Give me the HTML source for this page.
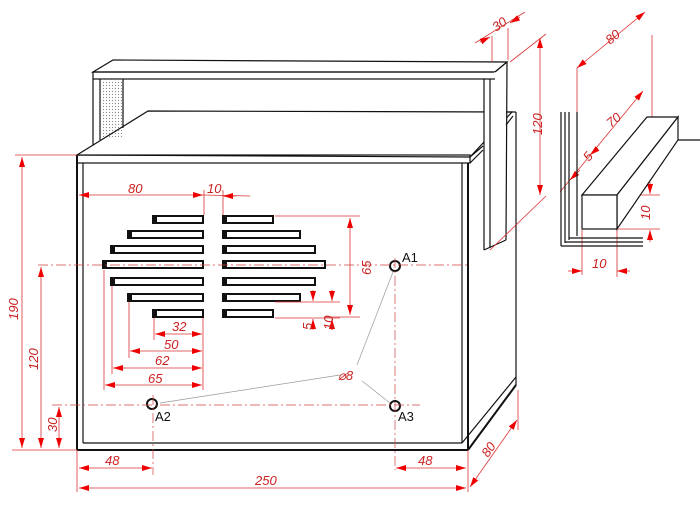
<!DOCTYPE html>
<html><head><meta charset="utf-8"><style>
html,body{margin:0;padding:0;background:#fff;width:700px;height:508px;overflow:hidden}
svg{display:block}
.k{stroke:#111;stroke-width:2;fill:none}
.k1{stroke:#111;stroke-width:1.2;fill:none}
.r{stroke:#d33;stroke-width:0.8;fill:none}
.c{stroke:#c44;stroke-width:0.7;fill:none;stroke-dasharray:10 3 2 3}
.g{stroke:#999;stroke-width:0.7;fill:none}
text.t{font-family:"Liberation Sans",sans-serif;font-style:italic;font-size:13px;fill:#c22}
text.a{font-family:"Liberation Sans",sans-serif;font-size:13px;fill:#111}
</style></head><body>
<svg width="700" height="508" viewBox="0 0 700 508">
<defs>
<marker id="ar" viewBox="0 0 10 6" refX="10" refY="3" markerWidth="10" markerHeight="6" orient="auto-start-reverse" markerUnits="userSpaceOnUse"><path d="M0,0L10,3L0,6z" fill="#e00"/></marker>
<pattern id="dots" width="3" height="3" patternUnits="userSpaceOnUse"><circle cx="1.5" cy="1.5" r="0.6" fill="#888"/></pattern>
</defs>
<!-- back unit -->
<polygon points="93,72 113,60 507,62 495,72" class="k1" fill="#fff"/>
<rect x="93" y="72" width="402" height="7" class="k1"/>
<line x1="93" y1="79" x2="93" y2="145" class="k1"/>
<line x1="100" y1="79" x2="100" y2="140" class="k1"/>
<rect x="101" y="79" width="22" height="58" fill="url(#dots)"/>
<line x1="123" y1="79" x2="123" y2="128" class="k1"/>
<!-- main box top -->
<polygon points="77,155 148,111 512,112 470,157" fill="#fff" class="k1"/>
<rect x="77" y="155" width="393" height="8" fill="#fff" class="k1"/>
<line x1="470" y1="163" x2="483" y2="150" class="k1"/>
<line x1="470" y1="157" x2="483" y2="146" class="k1"/>
<line x1="516" y1="112" x2="516" y2="385" class="k1"/>
<!-- back right leg in front -->
<polygon points="484,79 495,72 507,62 506,240 484,250" fill="#fff" stroke="none"/>
<line x1="495" y1="72" x2="507" y2="62" class="k1"/>
<line x1="484" y1="79" x2="484" y2="250" class="k1"/>
<line x1="490" y1="79" x2="490" y2="248" class="k1"/>
<line x1="507" y1="62" x2="506" y2="240" class="k1"/>
<line x1="484" y1="250" x2="506" y2="240" class="k1"/>
<line x1="484" y1="79" x2="495" y2="79" class="k1"/>
<line x1="506" y1="112" x2="516" y2="112" class="k1"/>
<line x1="506" y1="125" x2="513" y2="116" class="k1"/>
<!-- front face -->
<line x1="77" y1="155" x2="77" y2="450" class="k"/>
<line x1="83" y1="163" x2="83" y2="443" class="k1"/>
<line x1="77" y1="450" x2="468" y2="450" class="k"/>
<line x1="83" y1="443" x2="462" y2="443" class="k1"/>
<line x1="462" y1="163" x2="462" y2="443" class="k1"/>
<line x1="468" y1="163" x2="468" y2="450" class="k"/>
<line x1="468" y1="450" x2="516" y2="385" class="k"/>
<line x1="462" y1="443" x2="516" y2="377" class="k1"/>
<!-- slots -->
<g stroke="#111" stroke-width="2" fill="#fff">
<rect x="153" y="216" width="50" height="7"/><rect x="223" y="216" width="50" height="7"/>
<rect x="128" y="231" width="75" height="7"/><rect x="223" y="231" width="77" height="7"/>
<rect x="111" y="246" width="92" height="7"/><rect x="223" y="246" width="92" height="7"/>
<rect x="103" y="261" width="100" height="7"/><rect x="223" y="261" width="102" height="7"/>
<rect x="111" y="278" width="92" height="7"/><rect x="223" y="278" width="92" height="7"/>
<rect x="128" y="294" width="75" height="7"/><rect x="223" y="294" width="77" height="7"/>
<rect x="153" y="310" width="50" height="7"/><rect x="223" y="310" width="50" height="7"/>
</g>
<g fill="#111"><rect x="153" y="216" width="4" height="7"/><rect x="223" y="216" width="4" height="7"/><rect x="128" y="231" width="4" height="7"/><rect x="223" y="231" width="4" height="7"/><rect x="111" y="246" width="4" height="7"/><rect x="223" y="246" width="4" height="7"/><rect x="103" y="261" width="4" height="7"/><rect x="223" y="261" width="4" height="7"/><rect x="111" y="278" width="4" height="7"/><rect x="223" y="278" width="4" height="7"/><rect x="128" y="294" width="4" height="7"/><rect x="223" y="294" width="4" height="7"/><rect x="153" y="310" width="4" height="7"/><rect x="223" y="310" width="4" height="7"/></g>
<!-- holes -->
<g stroke="#111" stroke-width="2" fill="none"><circle cx="395" cy="266" r="5"/><circle cx="152" cy="404" r="5"/><circle cx="395" cy="406" r="5"/></g>
<text class="a" x="402" y="262">A1</text><text class="a" x="155" y="421">A2</text><text class="a" x="398" y="421">A3</text>
<line x1="160" y1="403" x2="340" y2="375" class="g"/>
<line x1="393" y1="272" x2="357" y2="365" class="g"/>
<line x1="362" y1="381" x2="390" y2="403" class="g"/>
<text class="t" x="338" y="380">⌀8</text>
<!-- center lines -->
<line x1="38" y1="265" x2="470" y2="265" class="c"/>
<line x1="52" y1="405" x2="420" y2="405" class="c"/>
<line x1="395" y1="258" x2="395" y2="470" class="c"/>
<line x1="153" y1="395" x2="153" y2="475" class="c"/>
<!-- red dims -->
<g class="r">
<line x1="15" y1="155" x2="77" y2="155"/><line x1="12" y1="450" x2="77" y2="450"/>
<line x1="22" y1="157" x2="22" y2="448" marker-start="url(#ar)" marker-end="url(#ar)"/>
<line x1="41" y1="267" x2="41" y2="448" marker-start="url(#ar)" marker-end="url(#ar)"/>
<line x1="59" y1="407" x2="59" y2="448" marker-start="url(#ar)" marker-end="url(#ar)"/>
<line x1="79" y1="195" x2="203" y2="195" marker-start="url(#ar)" marker-end="url(#ar)"/>
<line x1="203" y1="195" x2="250" y2="196"/>
<line x1="223" y1="196" x2="236" y2="196" marker-start="url(#ar)"/>
<line x1="204" y1="190" x2="204" y2="215"/><line x1="223" y1="190" x2="223" y2="215"/>
<line x1="275" y1="216" x2="360" y2="216"/><line x1="325" y1="317" x2="360" y2="317"/>
<line x1="350" y1="218" x2="350" y2="315" marker-start="url(#ar)" marker-end="url(#ar)"/>
<line x1="275" y1="302" x2="340" y2="302"/><line x1="275" y1="318" x2="340" y2="318"/>
<line x1="313" y1="290" x2="313" y2="301" marker-end="url(#ar)"/><line x1="313" y1="319" x2="313" y2="330" marker-start="url(#ar)"/>
<line x1="332" y1="290" x2="332" y2="301" marker-end="url(#ar)"/><line x1="332" y1="319" x2="332" y2="330" marker-start="url(#ar)"/>
<line x1="203" y1="318" x2="203" y2="390"/>
<line x1="154" y1="318" x2="154" y2="340"/><line x1="129" y1="302" x2="129" y2="358"/><line x1="112" y1="286" x2="112" y2="374"/><line x1="104" y1="270" x2="104" y2="390"/>
<line x1="155" y1="334" x2="202" y2="334" marker-start="url(#ar)" marker-end="url(#ar)"/>
<line x1="130" y1="351" x2="202" y2="351" marker-start="url(#ar)" marker-end="url(#ar)"/>
<line x1="113" y1="368" x2="202" y2="368" marker-start="url(#ar)" marker-end="url(#ar)"/>
<line x1="105" y1="385" x2="202" y2="385" marker-start="url(#ar)" marker-end="url(#ar)"/>
<line x1="77" y1="450" x2="77" y2="492"/><line x1="468" y1="450" x2="468" y2="492"/>
<line x1="79" y1="468" x2="152" y2="468" marker-start="url(#ar)" marker-end="url(#ar)"/>
<line x1="396" y1="468" x2="466" y2="468" marker-start="url(#ar)" marker-end="url(#ar)"/>
<line x1="79" y1="488" x2="466" y2="488" marker-start="url(#ar)" marker-end="url(#ar)"/>
<line x1="470" y1="487" x2="517" y2="420" marker-start="url(#ar)" marker-end="url(#ar)"/>
<line x1="518" y1="390" x2="518" y2="430"/>
<line x1="475" y1="43" x2="525" y2="12"/><line x1="492" y1="62" x2="492" y2="36"/><line x1="508" y1="60" x2="508" y2="28"/>
<line x1="480" y1="42" x2="490" y2="37" marker-end="url(#ar)"/>
<line x1="520" y1="17" x2="510" y2="23" marker-end="url(#ar)"/>
<line x1="510" y1="62" x2="546" y2="34"/><line x1="490" y1="250" x2="546" y2="196"/>
<line x1="540" y1="38" x2="540" y2="195" marker-start="url(#ar)" marker-end="url(#ar)"/>
<line x1="577" y1="68" x2="645" y2="12" marker-start="url(#ar)" marker-end="url(#ar)"/>
<line x1="577" y1="68" x2="577" y2="112"/><line x1="652" y1="35" x2="652" y2="117"/>
<line x1="560" y1="192" x2="643" y2="91" marker-end="url(#ar)"/>
<line x1="570" y1="180" x2="580" y2="170" marker-start="url(#ar)"/>
<line x1="590" y1="155" x2="598" y2="148" marker-start="url(#ar)"/>
<line x1="617" y1="195" x2="660" y2="195"/><line x1="617" y1="229" x2="660" y2="229"/>
<line x1="650" y1="182" x2="650" y2="194" marker-end="url(#ar)"/><line x1="650" y1="230" x2="650" y2="242" marker-start="url(#ar)"/>
<line x1="582" y1="230" x2="582" y2="275"/><line x1="617" y1="230" x2="617" y2="277"/>
<line x1="568" y1="271" x2="582" y2="271" marker-end="url(#ar)"/><line x1="617" y1="271" x2="630" y2="271" marker-start="url(#ar)"/>
</g>
<!-- labels -->
<text class="t" x="128" y="193">80</text><text class="t" x="207" y="193">10</text>
<text class="t" transform="translate(371,275) rotate(-90)">65</text>
<text class="t" transform="translate(333,330) rotate(-90)">10</text>
<text class="t" transform="translate(312,330) rotate(-90)">5</text>
<text class="t" x="172" y="331">32</text><text class="t" x="164" y="349">50</text><text class="t" x="155" y="365">62</text><text class="t" x="148" y="383">65</text>
<text class="t" transform="translate(18,320) rotate(-90)">190</text>
<text class="t" transform="translate(38,370) rotate(-90)">120</text>
<text class="t" transform="translate(57,432) rotate(-90)">30</text>
<text class="t" x="105" y="465">48</text><text class="t" x="418" y="465">48</text><text class="t" x="255" y="485">250</text>
<text class="t" transform="translate(488,458) rotate(-55)">80</text>
<text class="t" transform="translate(496,32) rotate(-35)">30</text>
<text class="t" transform="translate(542,135) rotate(-90)">120</text>
<text class="t" transform="translate(610,45) rotate(-40)">80</text>
<text class="t" transform="translate(611,128) rotate(-40)">70</text>
<text class="t" transform="translate(589,162) rotate(-50)">5</text>
<text class="t" transform="translate(650,220) rotate(-90)">10</text>
<text class="t" x="592" y="268">10</text>
<!-- detail -->
<g class="k1">
<line x1="561" y1="112" x2="561" y2="246"/><line x1="565" y1="112" x2="565" y2="243"/><line x1="569" y1="112" x2="569" y2="240"/><line x1="577" y1="112" x2="577" y2="236"/>
<line x1="561" y1="246" x2="643" y2="246"/><line x1="565" y1="242" x2="643" y2="242"/><line x1="569" y1="238" x2="643" y2="238"/>
<polygon points="582,195 647,117 678,117 617,195" fill="#fff"/>
<polygon points="617,195 678,117 678,140 617,229" fill="#fff"/>
<rect x="582" y="195" width="35" height="34" fill="#fff"/>
<line x1="678" y1="140" x2="700" y2="140"/>
</g>
</svg>
</body></html>
